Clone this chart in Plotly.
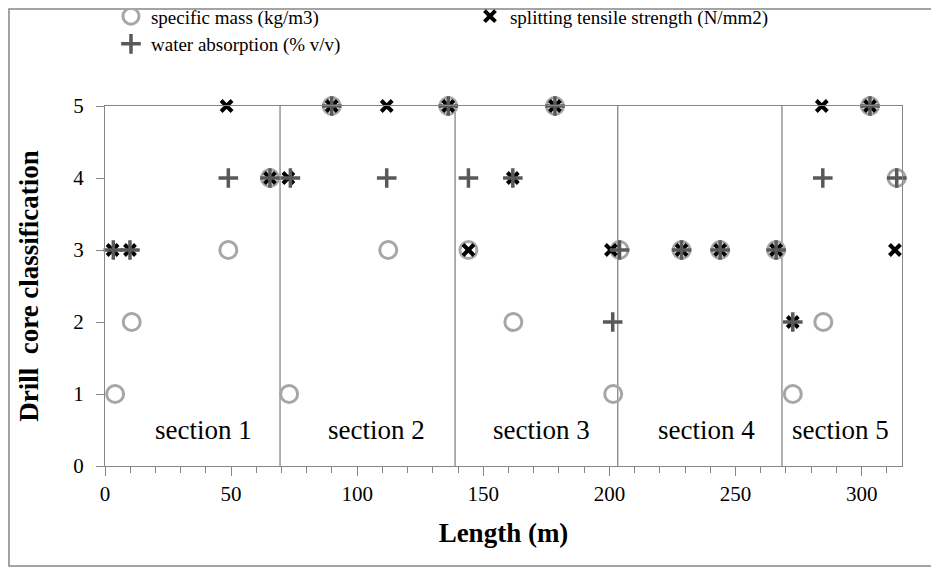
import plotly.graph_objects as go

# ---- data ----
# specific mass classification
sm_x = [4.0, 10.6, 48.9, 65.4, 73.0, 89.9, 112.3, 136.1, 144.1, 161.9, 178.4,
        201.5, 204.0, 228.6, 243.9, 266.1, 272.7, 284.8, 303.3, 313.9]
sm_y = [1, 2, 3, 4, 1, 5, 3, 5, 3, 2, 5, 1, 3, 3, 3, 3, 1, 2, 5, 4]

# splitting tensile strength classification
ts_x = [3.0, 9.9, 48.2, 65.4, 72.7, 89.9, 111.7, 136.1, 144.1, 161.7, 178.4,
        200.6, 228.6, 243.9, 266.1, 272.7, 284.2, 303.3, 313.2]
ts_y = [3, 3, 5, 4, 4, 5, 5, 5, 3, 4, 5, 3, 3, 3, 3, 2, 5, 5, 3]

# water absorption classification
wa_x = [3.3, 9.9, 48.9, 65.4, 73.5, 89.9, 111.7, 136.1, 144.1, 161.7, 178.4,
        201.3, 204.0, 228.6, 243.9, 266.1, 272.7, 284.6, 303.3, 313.9]
wa_y = [3, 3, 4, 4, 4, 5, 4, 5, 4, 4, 5, 2, 3, 3, 3, 3, 2, 4, 5, 4]

section_bounds = [69.4, 138.8, 203.3, 268.4]
section_labels = ["section 1", "section 2", "section 3", "section 4", "section 5"]
section_label_x = [39, 107.5, 173, 238.5, 291.7]

x_max = 316
FF = "Liberation Serif"

fig = go.Figure()
fig.add_trace(go.Scatter(
    x=sm_x, y=sm_y, mode="markers", name="specific mass (kg/m3)",
    marker=dict(symbol="circle-open", size=17, color="#a6a6a6",
                line=dict(width=3, color="#a6a6a6")),
    cliponaxis=False))
fig.add_trace(go.Scatter(
    x=ts_x, y=ts_y, mode="markers", name="splitting tensile strength (N/mm2)",
    marker=dict(symbol="x-thin-open", size=11, color="#000000",
                line=dict(width=4, color="#000000")),
    cliponaxis=False))
fig.add_trace(go.Scatter(
    x=wa_x, y=wa_y, mode="markers", name="water absorption (% v/v)",
    marker=dict(symbol="cross-thin-open", size=14, color="#595959",
                line=dict(width=3.5, color="#595959")),
    cliponaxis=False))

shapes = []
for b in section_bounds:
    shapes.append(dict(type="line", xref="x", yref="y", x0=b, x1=b, y0=0, y1=5,
                       line=dict(color="#868686", width=1.3), layer="below"))
# outer chart border
shapes.append(dict(type="rect", xref="paper", yref="paper",
                   x0=-0.1205, x1=1.0414, y0=-0.2778, y1=1.2694,
                   line=dict(color="#868686", width=1.5), layer="below"))

annotations = []
for lx, lt in zip(section_label_x, section_labels):
    annotations.append(dict(x=lx, y=0.5, xref="x", yref="y", text=lt,
                            showarrow=False,
                            font=dict(size=27, color="#000000", family=FF)))

fig.update_layout(
    width=931, height=560,
    margin=dict(l=97, r=37, t=98, b=102, autoexpand=False),
    paper_bgcolor="white", plot_bgcolor="white",
    font=dict(family=FF, color="#000000", size=20),
    shapes=shapes, annotations=annotations,
    showlegend=True,
    legend=dict(orientation="h", x=0.0075, y=1.302, xanchor="left", yanchor="top",
                font=dict(size=19, family=FF, color="#000000"), entrywidth=314,
                entrywidthmode="pixels", itemwidth=30, tracegroupgap=0,
                bgcolor="rgba(0,0,0,0)"),
    xaxis=dict(range=[0, x_max], dtick=50, tick0=0, showgrid=False, zeroline=False,
               showline=True, linecolor="#868686", linewidth=1.3, mirror=True,
               ticks="outside", ticklen=9, tickcolor="#868686", tickwidth=1.3,
               tickfont=dict(size=21, family=FF, color="#000000"),
               minor=dict(dtick=10, ticks="outside", ticklen=6, tickcolor="#868686",
                          tickwidth=1.3),
               title=dict(text="<b>Length (m)</b>",
                          font=dict(size=27, family=FF, color="#000000"), standoff=17)),
    yaxis=dict(range=[0, 5], dtick=1, showgrid=False, zeroline=False,
               showline=True, linecolor="#868686", linewidth=1.3, mirror=True,
               ticks="outside", ticklen=8, tickcolor="#868686", tickwidth=1.3,
               tickfont=dict(size=21, family=FF, color="#000000"), ticklabelstandoff=8,
               title=dict(text="<b>Drill  core classification</b>",
                          font=dict(size=27, family=FF, color="#000000"), standoff=26)),
)

fig.write_html("out.html")
